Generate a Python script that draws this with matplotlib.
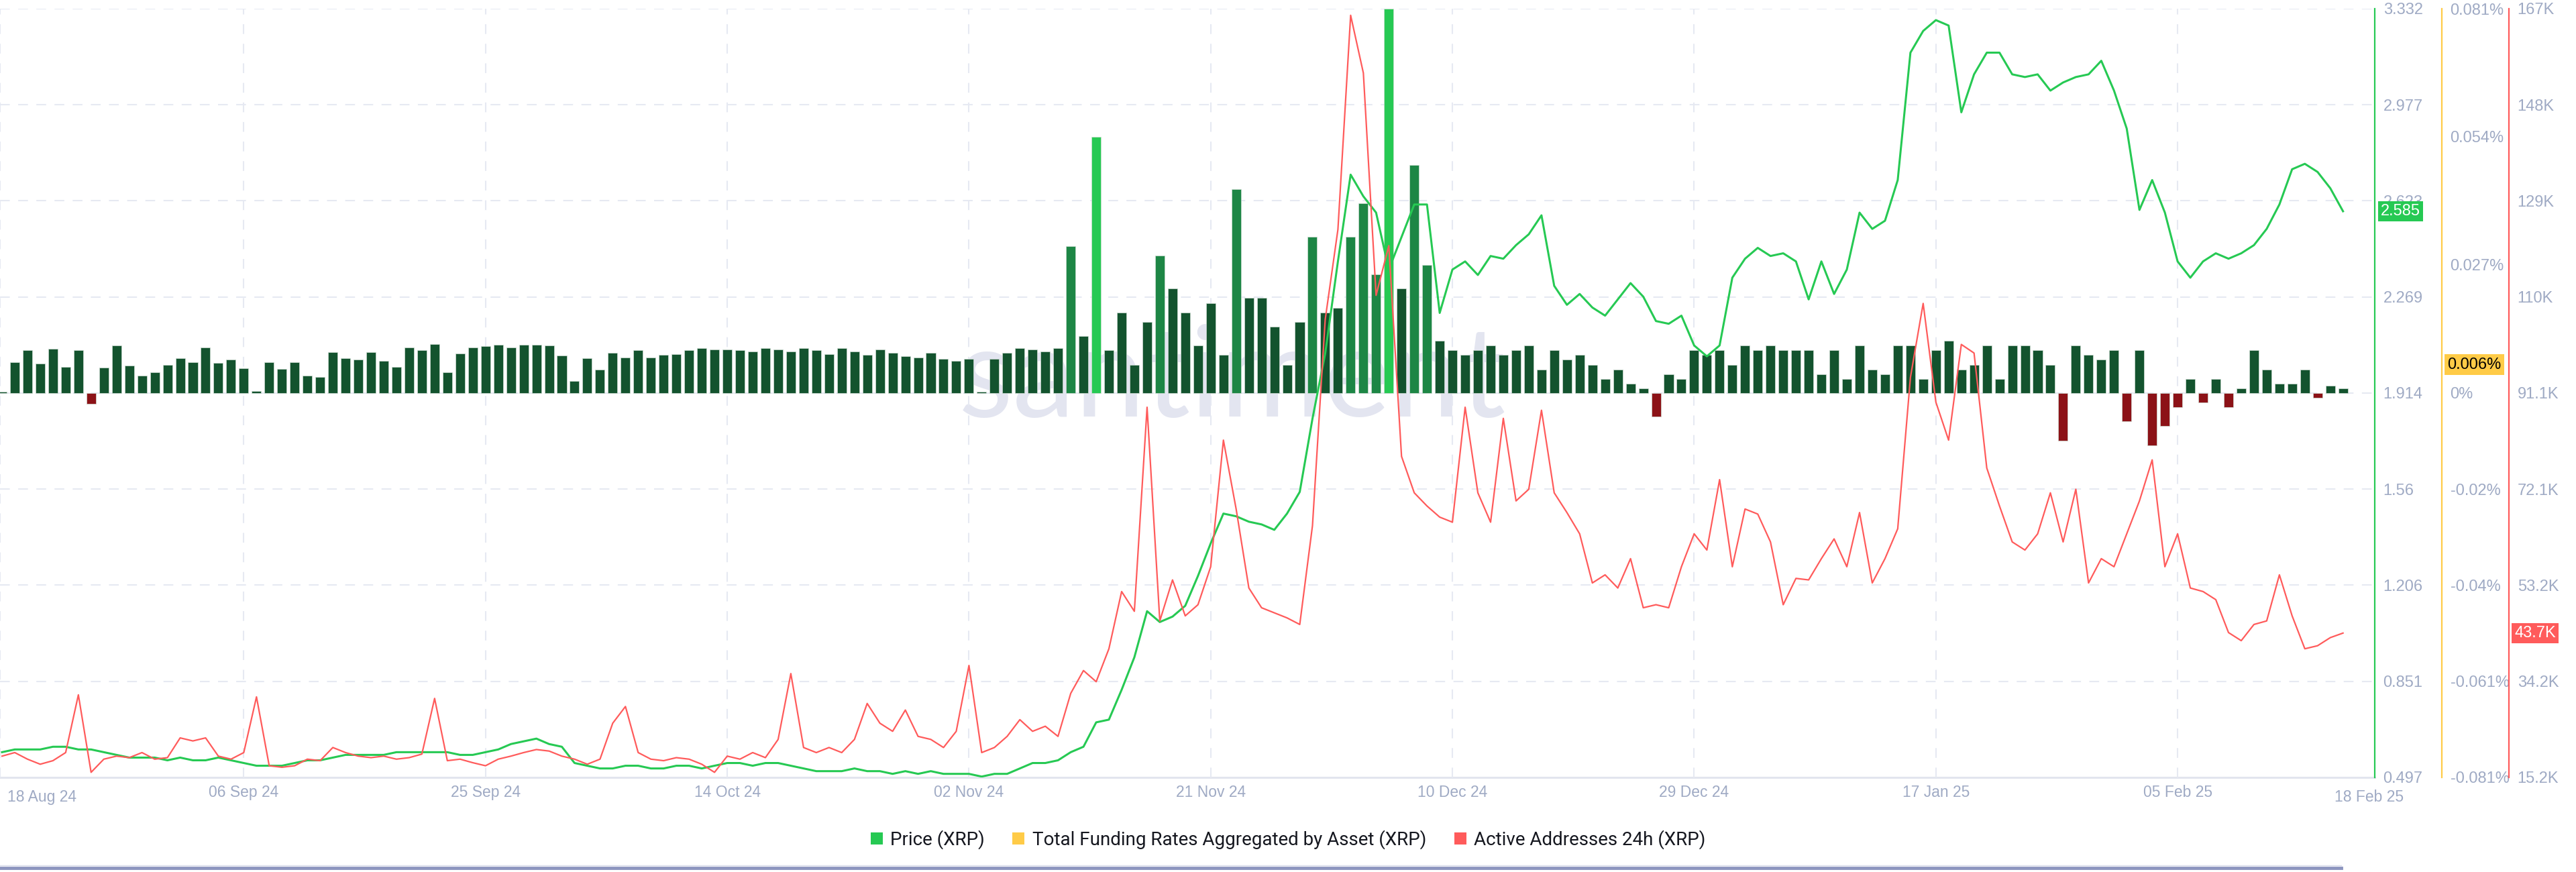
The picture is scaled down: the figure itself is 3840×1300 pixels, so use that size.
import numpy as np
import pandas as pd
import matplotlib
matplotlib.use('Agg')
import matplotlib.pyplot as plt
import matplotlib.dates as mdates
from matplotlib.patches import Patch
from matplotlib.lines import Line2D

plt.rcParams['font.family'] = ['Roboto', 'DejaVu Sans']

# ---------------- data ----------------
start_date = '2024-08-18'

price = [
    0.59, 0.60, 0.60, 0.60, 0.61, 0.61, 0.60, 0.60, 0.59, 0.58,
    0.57, 0.57, 0.57, 0.56, 0.57, 0.56, 0.56, 0.57, 0.56, 0.55,
    0.54, 0.54, 0.54, 0.55, 0.56, 0.56, 0.57, 0.58, 0.58, 0.58,
    0.58, 0.59, 0.59, 0.59, 0.59, 0.59, 0.58, 0.58, 0.59, 0.60,
    0.62, 0.63, 0.64, 0.62, 0.61, 0.55, 0.54, 0.53, 0.53, 0.54,
    0.54, 0.53, 0.53, 0.54, 0.54, 0.53, 0.54, 0.55, 0.55, 0.54,
    0.55, 0.55, 0.54, 0.53, 0.52, 0.52, 0.52, 0.53, 0.52, 0.52,
    0.51, 0.52, 0.51, 0.52, 0.51, 0.51, 0.51, 0.50, 0.51, 0.51,
    0.53, 0.55, 0.55, 0.56, 0.59, 0.61, 0.70, 0.71, 0.82, 0.94,
    1.11, 1.07, 1.09, 1.13, 1.24, 1.36, 1.47, 1.46, 1.44, 1.43,
    1.41, 1.47, 1.55, 1.82, 2.06, 2.40, 2.72, 2.64, 2.58, 2.37,
    2.49, 2.61, 2.61, 2.21, 2.37, 2.40, 2.35, 2.42, 2.41, 2.46,
    2.50, 2.57, 2.31, 2.24, 2.28, 2.23, 2.20, 2.26, 2.32, 2.27,
    2.18, 2.17, 2.20, 2.09, 2.05, 2.09, 2.34, 2.41, 2.45, 2.42,
    2.43, 2.40, 2.26, 2.40, 2.28, 2.37, 2.58, 2.52, 2.55, 2.70,
    3.17, 3.25, 3.29, 3.27, 2.95, 3.09, 3.17, 3.17, 3.09, 3.08,
    3.09, 3.03, 3.06, 3.08, 3.09, 3.14, 3.03, 2.89, 2.59, 2.70,
    2.58, 2.40, 2.34, 2.40, 2.43, 2.41, 2.43, 2.46, 2.52, 2.61,
    2.74, 2.76, 2.73, 2.67, 2.585,
]

active_addresses_k = [
    19.4, 20.1, 18.8, 17.8, 18.5, 20.1, 31.5, 16.2, 18.8, 19.4,
    19.1, 20.1, 18.8, 19.1, 23.0, 22.4, 23.0, 19.4, 18.8, 20.1,
    31.1, 17.5, 17.2, 17.5, 18.8, 18.5, 21.1, 20.1, 19.4, 19.1,
    19.4, 18.8, 19.1, 19.8, 30.8, 18.5, 18.8, 18.1, 17.5, 18.8,
    19.4, 20.1, 20.7, 20.4, 19.4, 18.8, 17.8, 18.8, 25.9, 29.2,
    20.1, 18.8, 18.5, 19.1, 18.8, 17.8, 16.2, 19.4, 18.8, 20.1,
    19.1, 22.7, 35.7, 21.1, 20.1, 21.1, 20.1, 22.7, 29.8, 25.9,
    24.3, 28.5, 23.3, 22.7, 21.1, 24.3, 37.3, 20.1, 21.1, 23.3,
    26.6, 24.3, 25.3, 23.3, 31.8, 36.3, 34.1, 40.6, 51.9, 48.0,
    88.3, 46.1, 54.2, 47.1, 49.3, 56.8, 81.8, 68.2, 52.6, 48.7,
    47.7, 46.7, 45.4, 64.9, 105.6, 123.4, 165.7, 154.3, 110.4, 120.2,
    78.6, 71.4, 68.8, 66.6, 65.6, 88.3, 71.4, 65.6, 86.1, 69.8,
    72.1, 87.7, 71.4, 67.5, 63.3, 53.6, 55.2, 52.6, 58.4, 48.7,
    49.3, 48.7, 56.8, 63.3, 60.1, 74.0, 56.8, 68.2, 67.2, 61.7,
    49.3, 54.5, 54.2, 58.4, 62.3, 56.8, 67.5, 53.6, 58.4, 64.3,
    94.2, 108.8, 89.3, 81.8, 100.7, 99.0, 76.3, 68.8, 61.7, 60.1,
    63.3, 71.4, 61.7, 72.1, 53.6, 58.4, 56.8, 63.3, 69.8, 77.9,
    56.8, 63.3, 52.6, 51.9, 50.3, 43.8, 42.2, 45.4, 46.1, 55.2,
    47.1, 40.6, 41.2, 42.8, 43.7,
]

funding_pct = [
    0.0003, 0.0065, 0.0090, 0.0062, 0.0093, 0.0055, 0.0090, -0.0022, 0.0054, 0.0100,
    0.0058, 0.0037, 0.0044, 0.0059, 0.0074, 0.0065, 0.0096, 0.0064, 0.0071, 0.0052,
    0.0004, 0.0065, 0.0051, 0.0065, 0.0037, 0.0034, 0.0086, 0.0074, 0.0071, 0.0086,
    0.0068, 0.0055, 0.0096, 0.0090, 0.0103, 0.0044, 0.0083, 0.0096, 0.0099, 0.0102,
    0.0096, 0.0102, 0.0102, 0.0100, 0.0079, 0.0025, 0.0074, 0.0050, 0.0085, 0.0075,
    0.0090, 0.0075, 0.0080, 0.0082, 0.0090, 0.0095, 0.0092, 0.0092, 0.0090, 0.0088,
    0.0095, 0.0092, 0.0088, 0.0095, 0.0090, 0.0082, 0.0095, 0.0088, 0.0080, 0.0092,
    0.0085, 0.0078, 0.0075, 0.0085, 0.0072, 0.0068, 0.0072, 0.0003, 0.0072, 0.0085,
    0.0095, 0.0092, 0.0088, 0.0095, 0.0310, 0.0120, 0.0540, 0.0090, 0.0170, 0.0060,
    0.0150, 0.0290, 0.0220, 0.0170, 0.0100, 0.0190, 0.0080, 0.0430, 0.0200, 0.0200,
    0.0140, 0.0060, 0.0150, 0.0330, 0.0170, 0.0180, 0.0330, 0.0400, 0.0250, 0.0810,
    0.0220, 0.0480, 0.0270, 0.0110, 0.0090, 0.0080, 0.0090, 0.0100, 0.0080, 0.0090,
    0.0100, 0.0050, 0.0090, 0.0070, 0.0080, 0.0060, 0.0030, 0.0050, 0.0020, 0.0010,
    -0.0050, 0.0040, 0.0030, 0.0090, 0.0080, 0.0090, 0.0060, 0.0100, 0.0090, 0.0100,
    0.0090, 0.0090, 0.0090, 0.0040, 0.0090, 0.0030, 0.0100, 0.0050, 0.0040, 0.0100,
    0.0100, 0.0030, 0.0090, 0.0110, 0.0050, 0.0060, 0.0100, 0.0030, 0.0100, 0.0100,
    0.0090, 0.0060, -0.0100, 0.0100, 0.0080, 0.0070, 0.0090, -0.0060, 0.0090, -0.0110,
    -0.0070, -0.0030, 0.0030, -0.0020, 0.0030, -0.0030, 0.0010, 0.0090, 0.0050, 0.0020,
    0.0020, 0.0050, -0.0010, 0.0015, 0.0010,
]

price_tick_labels = ['0.497', '0.851', '1.206', '1.56', '1.914', '2.269', '2.623', '2.977', '3.332']
funding_tick_values = [-0.081, -0.06075, -0.0405, -0.02025, 0.0, 0.027, 0.054, 0.081]
funding_tick_labels = ['-0.081%', '-0.061%', '-0.04%', '-0.02%', '0%', '0.027%', '0.054%', '0.081%']
aa_tick_labels = ['15.2K', '34.2K', '53.2K', '72.1K', '91.1K', '110K', '129K', '148K', '167K']
date_tick_start = '2024-09-06'
first_label = '18 Aug 24'
last_label = '18 Feb 25'
price_last_label = '2.585'
funding_last_label = '0.006%'
funding_last_value = 0.006
aa_last_label = '43.7K'

legend_labels = ['Price (XRP)', 'Total Funding Rates Aggregated by Asset (XRP)',
                 'Active Addresses 24h (XRP)']

# ---------------- style ----------------
GREEN = '#26c953'
YELLOW = '#ffcb47'
RED = '#ff5b5b'
TICK = '#9faac4'
GRID = '#e6e9f2'

price_lim = (0.497, 3.332)
funding_lim = (-0.081, 0.081)
aa_lim = (15.2, 167.0)

dates = pd.date_range(start_date, periods=len(price), freq='D')
x = mdates.date2num(dates)

fig = plt.figure(figsize=(38.4, 13), dpi=100)
fig.patch.set_facecolor('white')
ax_f = fig.add_axes([0.0, 0.1085, 0.9219, 0.8815])
ax_p = ax_f.twinx()
ax_a = ax_f.twinx()

for a in (ax_f, ax_p, ax_a):
    for s in ('top', 'bottom', 'left'):
        a.spines[s].set_visible(False)

xl = (x[0] - 0.16, x[0] + 186.5)
ax_f.set_xlim(*xl)
ax_f.set_ylim(*funding_lim)
ax_p.set_ylim(*price_lim)
ax_a.set_ylim(*aa_lim)
ax_f.set_facecolor('white')

# grid
price_ticks = np.linspace(price_lim[0], price_lim[1], len(price_tick_labels))
for i, pv in enumerate(price_ticks):
    if i == 0:
        ax_f.plot([0, 1], [pv, pv], transform=ax_p.get_yaxis_transform(),
                  color='#e2e5ee', lw=2.2, zorder=0.5, clip_on=False)
    else:
        ax_f.plot([0, 1], [pv, pv], transform=ax_p.get_yaxis_transform(),
                  color=GRID, lw=1.5, ls=(0, (7, 6)), zorder=0.5)
date_ticks = pd.date_range(date_tick_start, periods=9, freq='19D')
for d in list(mdates.date2num(date_ticks)):
    ax_f.axvline(d, color=GRID, lw=1.5, ls=(0, (7, 7)), zorder=0.5)
ax_f.axvline(xl[0] + 0.02, color=GRID, lw=1.5, ls=(0, (7, 7)), zorder=0.5)

# watermark
ax_f.text(0.519, 0.516, 'santiment', transform=ax_f.transAxes, fontsize=135,
          color='#e3e5f0', ha='center', va='center', zorder=0.3,
          family=['Lato', 'DejaVu Sans'], fontweight='normal')

# funding bars
def bar_color(v):
    if v < 0:
        return '#8c1217'
    if v >= 0.05:
        return '#26c953'
    if v >= 0.025:
        return '#1d8645'
    return '#13532e'

ax_f.bar(x, funding_pct, width=0.74, color=[bar_color(v) for v in funding_pct],
         edgecolor='#cfdcd3', linewidth=0.5, zorder=2)

# lines
ax_p.plot(x, price, color=GREEN, lw=2.2, zorder=3, solid_joinstyle='round')
ax_a.plot(x, active_addresses_k, color=RED, lw=1.6, zorder=3, solid_joinstyle='round')

# right axes
ax_p.spines['right'].set_position(('axes', 1.0))
ax_p.spines['right'].set_color(GREEN)
ax_p.spines['right'].set_linewidth(1.6)
ax_f.spines['right'].set_position(('axes', 1.02825))
ax_f.spines['right'].set_color(YELLOW)
ax_f.spines['right'].set_linewidth(1.6)
ax_a.spines['right'].set_position(('axes', 1.0565))
ax_a.spines['right'].set_color(RED)
ax_a.spines['right'].set_linewidth(1.6)

tick_font = dict(family=['Liberation Sans', 'DejaVu Sans'], size=17, color=TICK)
date_font = dict(family=['Liberation Sans', 'DejaVu Sans'], size=16.5, color=TICK)

ax_p.set_yticks(price_ticks)
ax_p.set_yticklabels(price_tick_labels, **tick_font)
ax_f.yaxis.tick_right()
ax_f.set_yticks(funding_tick_values)
ax_f.set_yticklabels(funding_tick_labels, **tick_font)
aa_ticks = np.linspace(aa_lim[0], aa_lim[1], len(aa_tick_labels))
ax_a.set_yticks(aa_ticks)
ax_a.set_yticklabels(aa_tick_labels, **tick_font)
for a in (ax_f, ax_p, ax_a):
    a.tick_params(axis='y', length=0, pad=9)

# x ticks
ax_f.set_xticks(mdates.date2num(date_ticks))
ax_f.set_xticklabels([d.strftime('%d %b %y') for d in date_ticks], **date_font)
ax_f.tick_params(axis='x', length=0, pad=8)
ax_f.text(0.003, -0.0155, first_label, transform=ax_f.transAxes, ha='left', va='top', **date_font)
ax_f.text(0.9975, -0.0155, last_label, transform=ax_f.transAxes, ha='center', va='top', **date_font)

# last value labels (the price box sits over the neighbouring tick label, as in the reference)
lab_font = dict(family=['Liberation Sans', 'DejaVu Sans'], size=17)
ax_p.text(1.0025, float(price[-1]), price_last_label, transform=ax_p.get_yaxis_transform(),
          ha='left', va='center', color='white', **lab_font,
          bbox=dict(boxstyle='square,pad=0.18', facecolor=GREEN, edgecolor='none'), zorder=5, clip_on=False)
ax_f.text(1.0305, funding_last_value, funding_last_label, transform=ax_f.get_yaxis_transform(),
          ha='left', va='center', color='black', **lab_font,
          bbox=dict(boxstyle='square,pad=0.18', facecolor=YELLOW, edgecolor='none'), zorder=5, clip_on=False)
ax_a.text(1.0588, float(active_addresses_k[-1]), aa_last_label, transform=ax_a.get_yaxis_transform(),
          ha='left', va='center', color='white', **lab_font,
          bbox=dict(boxstyle='square,pad=0.18', facecolor=RED, edgecolor='none'), zorder=5, clip_on=False)

# legend
handles = [Patch(facecolor=c, edgecolor='none') for c in (GREEN, YELLOW, RED)]
fig.legend(handles, legend_labels, loc='center', bbox_to_anchor=(0.5, 0.037), ncol=3,
           frameon=False, fontsize=20, handlelength=0.65, handleheight=0.65,
           handletextpad=0.4, columnspacing=1.5, labelcolor='#15171f')

# bottom rule
fig.add_artist(Line2D([0, 0.9089], [0.0045, 0.0045], color='#8d95bf', lw=3.5))
fig.add_artist(Line2D([0, 0.9089], [0.0075, 0.0075], color='#d8dbea', lw=1.0))

fig.savefig('out.png', dpi=100, facecolor='white')
